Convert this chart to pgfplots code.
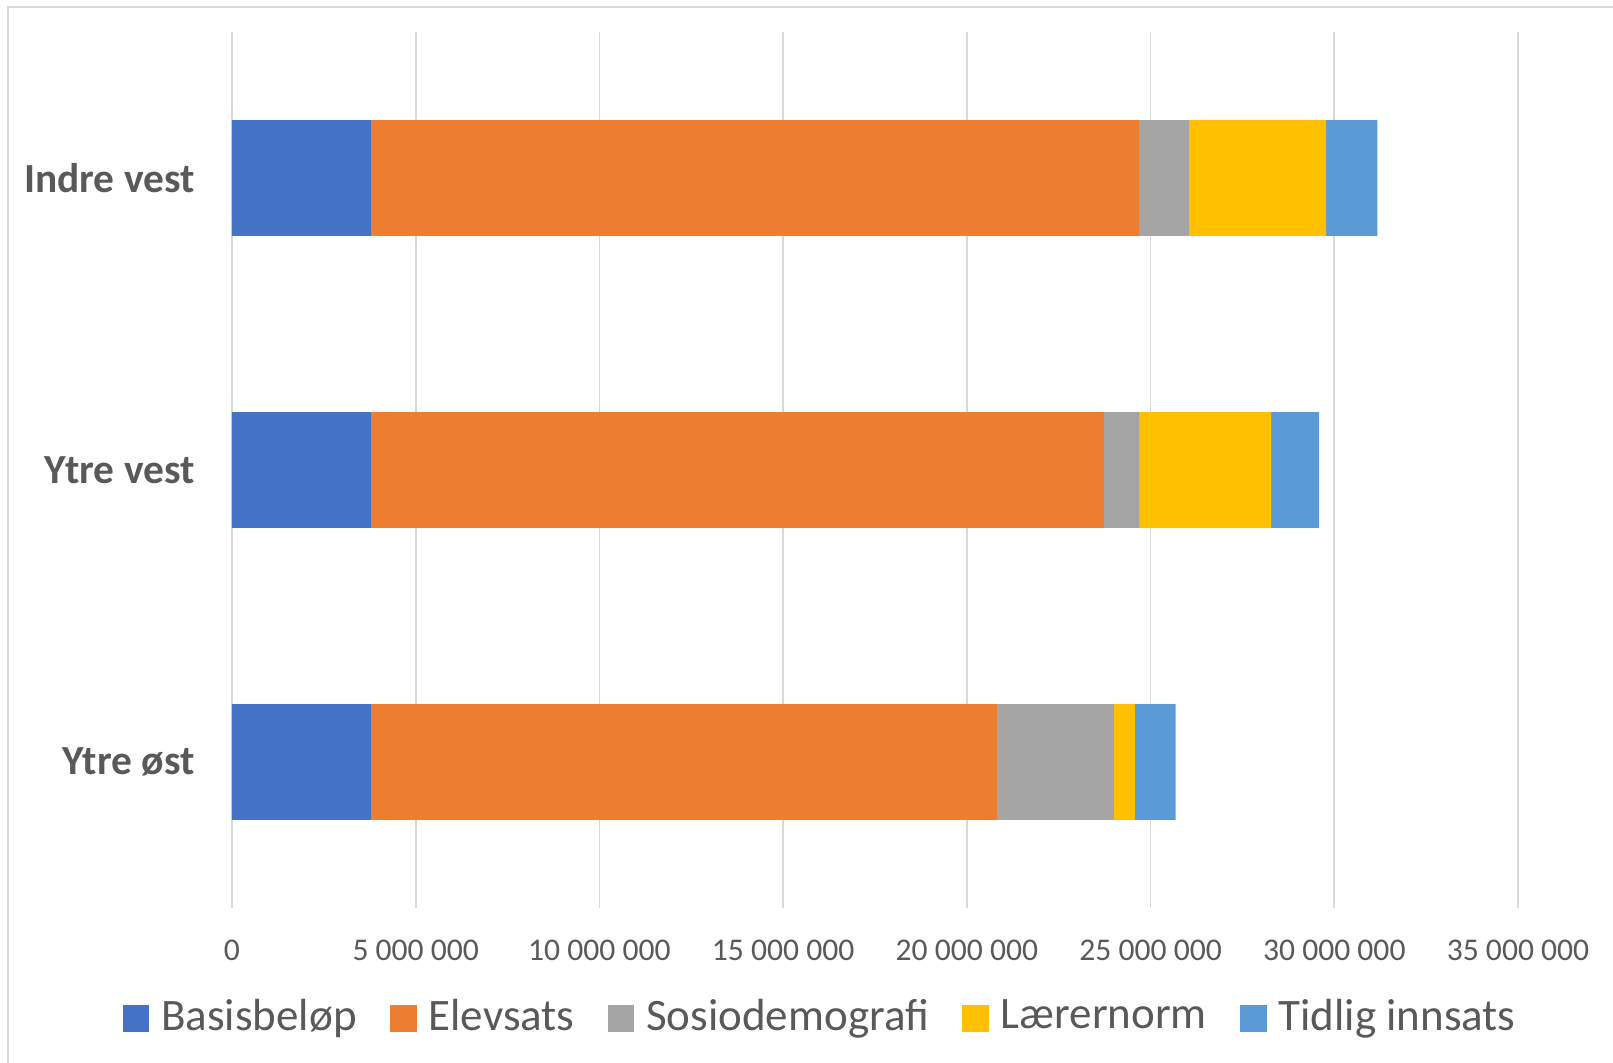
\documentclass[border=0pt]{standalone}
\usepackage{fontspec}
\setmainfont{Carlito}
\usepackage{pgfplots}
\pgfplotsset{compat=1.18}
\definecolor{cB}{HTML}{4472C4}
\definecolor{cE}{HTML}{ED7D31}
\definecolor{cS}{HTML}{A5A5A5}
\definecolor{cL}{HTML}{FFC000}
\definecolor{cT}{HTML}{5B9BD5}
\definecolor{txt}{HTML}{595959}
\definecolor{gridc}{HTML}{D9D9D9}
\begin{document}
\begin{tikzpicture}
\useasboundingbox (0,0) rectangle (806.5pt,531.5pt);
\draw[gridc, line width=1pt] (4pt,0) -- (4pt,528pt) -- (806.5pt,528pt);
\begin{axis}[
  at={(116pt,77.5pt)}, anchor=south west,
  scale only axis, width=643pt, height=438pt,
  xbar stacked, bar width=0.397,
  xmin=0, xmax=35, ymin=-0.5, ymax=2.5,
  ytick={0,1,2}, yticklabels={Ytre øst,Ytre vest,Indre vest},
  xtick={0,5,10,15,20,25,30,35},
  xticklabels={0,5 000 000,10 000 000,15 000 000,20 000 000,25 000 000,30 000 000,35 000 000},
  xmajorgrids, major grid style={gridc, line width=0.9pt},
  axis line style={draw=none}, major tick length=0pt, tick style={draw=none},
  xticklabel style={font=\fontsize{15.8}{18}\selectfont, text=txt, inner sep=0pt, anchor=center, yshift=-21pt},
  yticklabel style={font=\fontsize{20.7}{24}\selectfont\bfseries, text=txt, inner sep=0pt, anchor=east, xshift=-18.5pt},
  legend columns=-1,
  legend style={at={(0.4565,-0.1233)}, anchor=center, draw=none, fill=none,
    font=\fontsize{22.5}{26}\selectfont, text=txt, nodes={inner sep=0pt},
    /tikz/every odd column/.append style={column sep=6pt},
    /tikz/every even column/.append style={column sep=16.5pt}},
  legend image code/.code={\fill[#1] (0pt,-7.9pt) rectangle (13.4pt,5.5pt);},
]
\addplot[fill=cB, draw=none] coordinates {(3.78,0) (3.78,1) (3.78,2)};
\addplot[fill=cE, draw=none] coordinates {(17.04,0) (19.95,1) (20.91,2)};
\addplot[fill=cS, draw=none] coordinates {(3.18,0) (0.96,1) (1.35,2)};
\addplot[fill=cL, draw=none] coordinates {(0.57,0) (3.59,1) (3.74,2)};
\addplot[fill=cT, draw=none] coordinates {(1.11,0) (1.31,1) (1.39,2)};
\legend{Basisbeløp,Elevsats,Sosiodemografi,Lærernorm,Tidlig innsats}
\end{axis}
\end{tikzpicture}
\end{document}
